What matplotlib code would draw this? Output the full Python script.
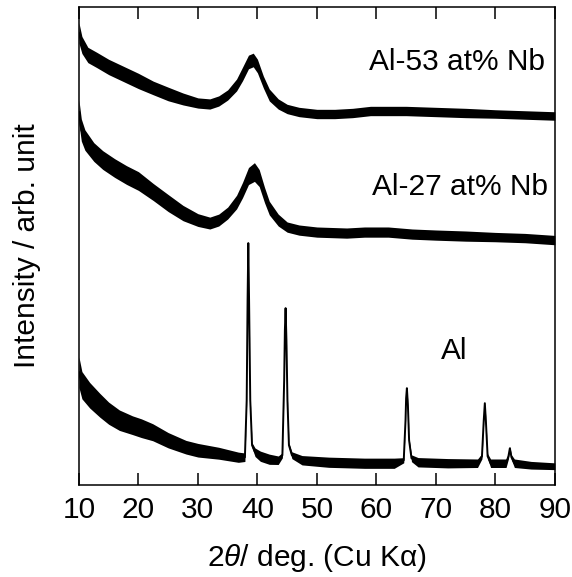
import numpy as np
import matplotlib
matplotlib.use("Agg")
import matplotlib.pyplot as plt

plt.rcParams['font.family'] = ['Liberation Sans', 'DejaVu Sans']
plt.rcParams['mathtext.fontset'] = 'custom'
plt.rcParams['mathtext.rm'] = 'Liberation Sans'
plt.rcParams['mathtext.it'] = 'Liberation Sans:italic'

# Al-53 at% Nb (top pattern, offset already included)
nb53_x = [10.0, 10.5, 11.5, 13, 15, 17.5, 20, 22.5, 25, 27.5, 30, 32, 33.5, 35,
          36.5, 37.5, 38.5, 39.3, 40, 41, 42, 43.5, 45, 47, 50, 53, 56, 59, 62,
          65, 70, 75, 80, 85, 90]
nb53_y = [452, 440, 430, 425, 418, 411, 404, 397, 391, 386, 382, 381, 384, 390,
          400, 411, 423, 425, 419, 403, 390, 381, 376, 373, 371, 371, 372, 374, 374,
          374, 373, 372, 371, 370, 369]
nb53_noise = [12, 10, 9, 9, 9, 9, 9, 8, 8, 7, 6, 6, 6, 6,
              7, 8, 8, 8, 8, 7, 7, 6, 5.5, 5.5, 5.5, 5.5, 5.5, 5.5, 5.5,
              5.5, 5.5, 5.5, 5, 5, 5]

# Al-27 at% Nb (middle pattern)
nb27_x = [10.0, 10.4, 11, 12.5, 14, 16, 18, 20, 22.5, 25, 27.5, 30, 32, 33.5,
          35, 36.5, 37.5, 38.5, 39.5, 40.3, 41.2, 42, 43.5, 45, 47, 50, 55, 58,
          62, 66, 70, 75, 80, 85, 90]
nb27_y = [373, 355, 345, 333, 325, 317, 310, 304, 293, 282, 272, 265, 262, 265,
          272, 283, 295, 309, 313, 307, 290, 277, 265, 258, 255, 253, 252, 253,
          253, 251, 250, 249, 248, 247, 245]
nb27_noise = [14, 13, 12, 11, 11, 11, 11, 11, 10, 10, 9, 7.5, 7, 7,
              7, 8, 9, 10, 11, 10, 9, 8, 7, 6, 6, 6, 6, 6,
              6, 6, 6, 6, 5.5, 5.5, 5.5]

# pure Al (bottom pattern)
al_x = [10.0, 10.5, 11.8, 13.5, 15, 16.8, 19, 20.5, 22.4, 25, 28, 30, 33.5, 36.8,
        37.9, 38.2, 38.35, 38.47, 38.6, 38.8, 39.1, 39.6, 40.5, 42, 43.5,
        44.2, 44.5, 44.62, 44.74, 44.88, 45.05, 45.3, 45.8, 47.5, 52, 58, 63,
        64.6, 64.9, 65.0, 65.13, 65.3, 65.5, 65.9, 67, 72, 77,
        77.75, 78.05, 78.23, 78.42, 78.7, 79.2, 81.8, 82.2, 82.44, 82.7, 83.2,
        86, 90]
al_y = [113, 100, 90, 80, 72, 65, 60, 57, 53, 45, 38, 35, 32, 28,
        28, 85, 185, 242, 185, 85, 40, 33, 29, 26, 25,
        30, 105, 155, 177, 145, 85, 40, 30, 25, 23, 22, 22,
        25, 65, 87, 97, 80, 45, 27, 23, 22, 22,
        29, 65, 82, 63, 29, 22, 22, 29, 37, 28, 22,
        20, 19]
al_noise = [18, 16, 15, 14, 13, 12, 11, 11, 10, 9, 8, 8, 7, 6,
            5, 1.5, 1.5, 1.5, 1.5, 1.5, 3, 5, 6, 6, 5,
            3, 1.5, 1.5, 1.5, 1.5, 1.5, 3, 4, 5.5, 6, 6, 6,
            3, 1.5, 1.5, 1.5, 1.5, 2, 4, 5.5, 5.5, 5,
            3, 1.5, 1.5, 1.5, 3, 5, 5, 3, 2, 3, 5,
            4.5, 4]

patterns = [
    (nb53_x, nb53_y, nb53_noise),
    (nb27_x, nb27_y, nb27_noise),
    (al_x, al_y, al_noise),
]

fig = plt.figure(figsize=(5.72, 5.77), dpi=100)
ax = fig.add_axes([0.138, 0.159, 0.832, 0.829])

for x, y, n in patterns:
    x = np.array(x)
    y = np.array(y)
    n = np.array(n) * 0.85
    ax.fill_between(x, y - n, y + n, color='black', lw=0)
    ax.plot(x, y, color='black', lw=1.4)

ax.text(88.4, 423, "Al-53 at% Nb", ha='right', va='center', fontsize=21.5)
ax.text(88.9, 298, "Al-27 at% Nb", ha='right', va='center', fontsize=21.5)
ax.text(73.1, 134, "Al", ha='center', va='center', fontsize=21.5)

ax.set_xlim(10, 90)
ax.set_ylim(0, 478)
ax.set_xticks(range(10, 91, 10))
ax.set_yticks([])
ax.tick_params(axis='x', direction='in', top=True, length=8.6, width=1.1,
               labelsize=21.5, pad=8)
for s in ax.spines.values():
    s.set_linewidth(1.1)

ax.set_xlabel(r"$\mathit{2\theta}$/ deg. (Cu K$\mathrm{\alpha}$)", fontsize=21.5, labelpad=13)
ax.set_ylabel("Intensity / arb. unit", fontsize=21.5, labelpad=27)

fig.savefig("out.png", dpi=100)
